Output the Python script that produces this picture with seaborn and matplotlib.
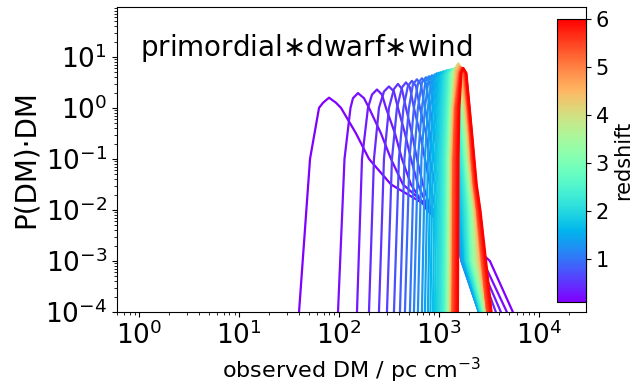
import matplotlib
matplotlib.use("Agg")
import matplotlib.pyplot as plt
import numpy as np
import pandas as pd
import seaborn as sns
from matplotlib.colors import Normalize
from matplotlib.cm import ScalarMappable

# ---------------- data (log10 values) ----------------
redshift = [0.1, 0.2, 0.3, 0.4, 0.5, 0.6, 0.7, 0.8, 0.9, 1.0,
            1.1, 1.2, 1.3, 1.4, 1.5, 1.6, 1.7, 1.8, 1.9, 2.0,
            2.1, 2.2, 2.3, 2.4, 2.5, 2.6, 2.7, 2.8, 2.9, 3.0,
            3.1, 3.2, 3.3, 3.4, 3.5, 3.6, 3.7, 3.8, 3.9, 4.0,
            4.1, 4.2, 4.3, 4.4, 4.5, 4.6, 4.7, 4.8, 4.9, 5.0,
            5.1, 5.2, 5.3, 5.4, 5.5, 5.6, 5.7, 5.8, 5.9, 6.0]

# rising side: log10 DM where log10 P = -4, -1, 0
log_dm_foot = [1.60, 1.99, 2.18, 2.30, 2.40, 2.48, 2.55, 2.61, 2.66, 2.71,
               2.75, 2.79, 2.83, 2.86, 2.89, 2.915, 2.94, 2.96, 2.98, 2.995,
               3.01, 3.025, 3.035, 3.045, 3.055, 3.065, 3.07, 3.075, 3.08, 3.083,
               3.086, 3.089, 3.092, 3.096, 3.10, 3.105, 3.105, 3.11, 3.11, 3.115,
               3.115, 3.12, 3.12, 3.125, 3.125, 3.13, 3.13, 3.133, 3.135, 3.137,
               3.139, 3.14, 3.14, 3.14, 3.15, 3.16, 3.165, 3.175, 3.18, 3.19]
log_dm_left_m1 = [1.71, 2.055, 2.23, 2.35, 2.45, 2.53, 2.60, 2.655, 2.705, 2.75,
                  2.79, 2.825, 2.86, 2.89, 2.915, 2.937, 2.96, 2.979, 2.997, 3.011,
                  3.025, 3.039, 3.048, 3.057, 3.066, 3.075, 3.079, 3.084, 3.089, 3.092,
                  3.095, 3.098, 3.101, 3.105, 3.109, 3.114, 3.114, 3.119, 3.119, 3.124,
                  3.124, 3.129, 3.129, 3.134, 3.134, 3.139, 3.139, 3.142, 3.144, 3.146,
                  3.148, 3.149, 3.15, 3.151, 3.16, 3.168, 3.173, 3.182, 3.187, 3.196]
log_dm_left_0 = [1.80, 2.115, 2.29, 2.40, 2.50, 2.58, 2.645, 2.70, 2.75, 2.79,
                 2.83, 2.86, 2.89, 2.915, 2.94, 2.96, 2.981, 2.999, 3.016, 3.029,
                 3.042, 3.055, 3.064, 3.073, 3.082, 3.09, 3.095, 3.10, 3.105, 3.108,
                 3.111, 3.114, 3.117, 3.121, 3.125, 3.129, 3.13, 3.134, 3.135, 3.139,
                 3.14, 3.144, 3.145, 3.149, 3.15, 3.154, 3.155, 3.158, 3.16, 3.162,
                 3.164, 3.166, 3.168, 3.169, 3.176, 3.182, 3.187, 3.194, 3.198, 3.205]

# top of each curve: shoulder height, peak position and height
log_p_cap = [0.10, 0.19, 0.26, 0.32, 0.37, 0.40, 0.43, 0.46, 0.48, 0.50,
             0.52, 0.54, 0.56, 0.58, 0.59, 0.60, 0.61, 0.62, 0.63, 0.635,
             0.64, 0.645, 0.65, 0.65, 0.655, 0.66, 0.66, 0.665, 0.67, 0.67,
             0.675, 0.68, 0.685, 0.69, 0.70, 0.71, 0.72, 0.73, 0.74, 0.75,
             0.76, 0.77, 0.75, 0.73, 0.72, 0.71, 0.70, 0.695, 0.69, 0.69,
             0.685, 0.685, 0.685, 0.68, 0.68, 0.68, 0.68, 0.68, 0.68, 0.68]
log_dm_cap_left = [1.84, 2.14, 2.33, 2.45, 2.55, 2.63, 2.69, 2.74, 2.79, 2.83,
                   2.865, 2.895, 2.925, 2.947, 2.968, 2.988, 3.007, 3.02, 3.037, 3.048,
                   3.059, 3.07, 3.08, 3.09, 3.10, 3.106, 3.111, 3.116, 3.121, 3.126,
                   3.131, 3.136, 3.141, 3.146, 3.151, 3.152, 3.157, 3.158, 3.163, 3.164,
                   3.169, 3.17, 3.175, 3.177, 3.182, 3.187, 3.188, 3.193, 3.198, 3.199,
                   3.204, 3.205, 3.209, 3.21, 3.214, 3.215, 3.219, 3.22, 3.221, 3.225]
log_dm_peak = [1.90, 2.19, 2.38, 2.50, 2.59, 2.67, 2.73, 2.78, 2.83, 2.87,
               2.90, 2.93, 2.96, 2.98, 3.00, 3.02, 3.04, 3.05, 3.07, 3.08,
               3.09, 3.10, 3.11, 3.12, 3.13, 3.135, 3.14, 3.145, 3.15, 3.155,
               3.16, 3.165, 3.17, 3.175, 3.18, 3.18, 3.185, 3.185, 3.19, 3.19,
               3.195, 3.195, 3.20, 3.20, 3.205, 3.21, 3.21, 3.215, 3.22, 3.22,
               3.225, 3.225, 3.23, 3.23, 3.235, 3.235, 3.24, 3.24, 3.24, 3.245]
log_p_peak = [0.20, 0.29, 0.36, 0.42, 0.47, 0.50, 0.53, 0.56, 0.58, 0.60,
              0.62, 0.64, 0.66, 0.68, 0.69, 0.70, 0.71, 0.72, 0.73, 0.735,
              0.74, 0.745, 0.75, 0.75, 0.755, 0.76, 0.76, 0.765, 0.77, 0.77,
              0.775, 0.78, 0.785, 0.79, 0.80, 0.81, 0.82, 0.83, 0.84, 0.85,
              0.86, 0.87, 0.85, 0.83, 0.82, 0.81, 0.80, 0.795, 0.79, 0.79,
              0.785, 0.785, 0.785, 0.78, 0.78, 0.78, 0.78, 0.78, 0.78, 0.78]
log_dm_cap_right = [1.97, 2.25, 2.43, 2.55, 2.63, 2.71, 2.77, 2.82, 2.87, 2.91,
                    2.94, 2.965, 2.995, 3.015, 3.035, 3.052, 3.07, 3.08, 3.098, 3.108,
                    3.118, 3.127, 3.136, 3.145, 3.154, 3.159, 3.164, 3.168, 3.173, 3.178,
                    3.183, 3.188, 3.193, 3.198, 3.203, 3.203, 3.208, 3.208, 3.212, 3.212,
                    3.217, 3.217, 3.222, 3.223, 3.228, 3.233, 3.234, 3.239, 3.244, 3.245,
                    3.25, 3.251, 3.256, 3.257, 3.262, 3.263, 3.267, 3.268, 3.272, 3.275]

# falling side: log10 DM where log10 P = 0, -0.5, -1, -1.5, -2, -3, -4
log_dm_right_0 = [2.02, 2.30, 2.47, 2.59, 2.67, 2.75, 2.81, 2.86, 2.91, 2.95,
                  2.98, 3.005, 3.035, 3.055, 3.075, 3.092, 3.11, 3.12, 3.138, 3.148,
                  3.158, 3.167, 3.176, 3.185, 3.194, 3.199, 3.204, 3.208, 3.213, 3.218,
                  3.223, 3.228, 3.233, 3.238, 3.243, 3.245, 3.25, 3.251, 3.256, 3.257,
                  3.262, 3.263, 3.267, 3.268, 3.272, 3.276, 3.277, 3.281, 3.285, 3.286,
                  3.288, 3.289, 3.29, 3.291, 3.295, 3.297, 3.30, 3.302, 3.305, 3.308]
log_dm_right_m05 = [2.17, 2.42, 2.56, 2.66, 2.73, 2.81, 2.87, 2.91, 2.955, 2.99,
                    3.02, 3.045, 3.072, 3.092, 3.11, 3.127, 3.144, 3.154, 3.171, 3.181,
                    3.19, 3.199, 3.207, 3.216, 3.224, 3.229, 3.234, 3.238, 3.243, 3.247,
                    3.252, 3.257, 3.261, 3.266, 3.27, 3.272, 3.277, 3.278, 3.282, 3.283,
                    3.288, 3.289, 3.292, 3.293, 3.297, 3.30, 3.301, 3.305, 3.308, 3.309,
                    3.31, 3.311, 3.312, 3.313, 3.317, 3.32, 3.323, 3.326, 3.329, 3.332]
log_dm_right_m1 = [2.30, 2.52, 2.63, 2.72, 2.78, 2.86, 2.91, 2.95, 2.99, 3.02,
                   3.05, 3.075, 3.10, 3.12, 3.14, 3.155, 3.17, 3.18, 3.195, 3.205,
                   3.213, 3.222, 3.23, 3.238, 3.246, 3.25, 3.255, 3.259, 3.263, 3.267,
                   3.272, 3.276, 3.28, 3.285, 3.289, 3.291, 3.295, 3.296, 3.30, 3.301,
                   3.305, 3.306, 3.309, 3.31, 3.314, 3.317, 3.318, 3.322, 3.325, 3.326,
                   3.327, 3.328, 3.329, 3.33, 3.335, 3.339, 3.343, 3.347, 3.351, 3.355]
log_dm_right_m15 = [2.52, 2.64, 2.72, 2.79, 2.84, 2.91, 2.96, 3.00, 3.03, 3.06,
                    3.09, 3.11, 3.13, 3.15, 3.17, 3.185, 3.198, 3.207, 3.22, 3.23,
                    3.238, 3.246, 3.254, 3.262, 3.27, 3.274, 3.279, 3.283, 3.287, 3.291,
                    3.295, 3.30, 3.304, 3.308, 3.312, 3.314, 3.318, 3.319, 3.323, 3.324,
                    3.328, 3.329, 3.332, 3.333, 3.337, 3.34, 3.341, 3.345, 3.348, 3.349,
                    3.35, 3.351, 3.352, 3.353, 3.358, 3.362, 3.366, 3.37, 3.374, 3.378]
log_dm_right_m2 = [2.95, 2.93, 2.88, 2.90, 2.92, 2.97, 3.01, 3.05, 3.08, 3.10,
                   3.12, 3.14, 3.16, 3.175, 3.19, 3.205, 3.218, 3.228, 3.24, 3.25,
                   3.258, 3.266, 3.274, 3.282, 3.29, 3.295, 3.30, 3.305, 3.31, 3.315,
                   3.32, 3.325, 3.33, 3.335, 3.34, 3.343, 3.347, 3.349, 3.353, 3.355,
                   3.359, 3.361, 3.364, 3.366, 3.37, 3.373, 3.375, 3.379, 3.38, 3.381,
                   3.382, 3.383, 3.384, 3.385, 3.39, 3.395, 3.40, 3.405, 3.41, 3.415]
log_dm_right_m3 = [3.51, 3.44, 3.40, 3.38, 3.28, 3.26, 3.25, 3.24, 3.235, 3.23,
                   3.225, 3.225, 3.23, 3.235, 3.24, 3.25, 3.26, 3.265, 3.27, 3.275,
                   3.28, 3.29, 3.30, 3.305, 3.31, 3.315, 3.32, 3.325, 3.33, 3.335,
                   3.34, 3.345, 3.35, 3.355, 3.36, 3.37, 3.375, 3.38, 3.385, 3.39,
                   3.395, 3.40, 3.405, 3.41, 3.415, 3.42, 3.42, 3.425, 3.425, 3.43,
                   3.43, 3.432, 3.434, 3.436, 3.442, 3.448, 3.454, 3.46, 3.466, 3.472]
log_dm_end = [3.74, 3.68, 3.62, 3.57, 3.44, 3.42, 3.42, 3.41, 3.41, 3.40,
              3.40, 3.40, 3.40, 3.40, 3.405, 3.41, 3.41, 3.415, 3.415, 3.42,
              3.42, 3.425, 3.43, 3.43, 3.435, 3.44, 3.44, 3.445, 3.45, 3.45,
              3.455, 3.455, 3.46, 3.46, 3.465, 3.47, 3.47, 3.475, 3.475, 3.48,
              3.48, 3.48, 3.48, 3.48, 3.485, 3.485, 3.485, 3.485, 3.485, 3.485,
              3.485, 3.485, 3.485, 3.485, 3.492, 3.499, 3.506, 3.513, 3.52, 3.527]

# log10 P levels of the fixed-level points
levels_rise = [-4.0, -1.0, 0.0]
levels_fall = [0.0, -0.5, -1.0, -1.5, -2.0, -3.0, -4.0]

colorbar_ticks = [1, 2, 3, 4, 5, 6]
title_text = r"primordial$\ast$dwarf$\ast$wind"

# ---------------- assemble long table ----------------
rows = []
for i, z in enumerate(redshift):
    xs = [log_dm_foot[i], log_dm_left_m1[i], log_dm_left_0[i],
          log_dm_cap_left[i], log_dm_peak[i], log_dm_cap_right[i],
          log_dm_right_0[i], log_dm_right_m05[i], log_dm_right_m1[i],
          log_dm_right_m15[i], log_dm_right_m2[i], log_dm_right_m3[i],
          log_dm_end[i]]
    ys = levels_rise + [log_p_cap[i], log_p_peak[i], log_p_cap[i]] + levels_fall
    for k, (x, y) in enumerate(zip(xs, ys)):
        rows.append({"redshift": z, "DM": 10.0 ** x, "P": 10.0 ** y,
                     "curve": i, "order": k})
df = pd.DataFrame(rows)

# ---------------- plot ----------------
sns.set_theme(style="ticks", rc={
    "axes.edgecolor": "black", "axes.linewidth": 0.8,
    "xtick.color": "black", "ytick.color": "black",
    "text.color": "black", "axes.labelcolor": "black",
    "xtick.major.size": 3.5, "ytick.major.size": 3.5,
    "xtick.minor.size": 2.0, "ytick.minor.size": 2.0,
    "xtick.major.width": 0.8, "ytick.major.width": 0.8,
    "xtick.minor.width": 0.6, "ytick.minor.width": 0.6,
})
plt.rcParams["font.family"] = ["DejaVu Sans"]

fig = plt.figure(figsize=(6.36, 3.88), dpi=100)
ax = fig.add_axes([0.184, 0.196, 0.737, 0.786])

norm = Normalize(vmin=0.1, vmax=6.0)
sns.lineplot(data=df, x="DM", y="P", hue="redshift", palette="rainbow",
             hue_norm=norm, units="curve", estimator=None, sort=False,
             legend=False, linewidth=1.6, ax=ax)

ax.set_xscale("log")
ax.set_yscale("log")
ax.set_xlim(0.6, 2.95e4)
ax.set_ylim(1e-4, 95)
ax.set_xlabel(r"observed DM / pc cm$^{-3}$", fontsize=16)
ax.set_ylabel("P(DM)·DM", fontsize=20)
ax.tick_params(axis="both", which="major", labelsize=19)
ax.text(0.05, 0.865, title_text, transform=ax.transAxes, fontsize=20,
        ha="left", va="center")

cax = fig.add_axes([0.876, 0.222, 0.0456, 0.729])
sm = ScalarMappable(norm=norm, cmap="rainbow")
sm.set_array([])
cb = fig.colorbar(sm, cax=cax)
cb.set_ticks(colorbar_ticks)
cb.ax.tick_params(labelsize=15, length=3.5, width=0.8)
cb.set_label("redshift", fontsize=15, labelpad=3)
cb.outline.set_linewidth(0.8)

fig.savefig("out.png", dpi=100)
